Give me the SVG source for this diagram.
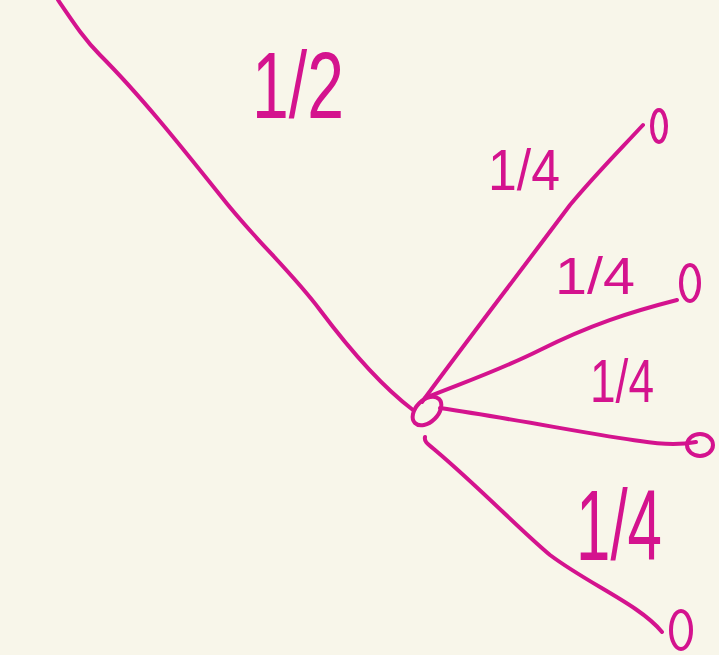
<svg xmlns="http://www.w3.org/2000/svg" width="719" height="655" viewBox="0 0 719 655">
<style>
.ln{fill:none;stroke:#D4138E;stroke-width:4;stroke-linecap:round;stroke-linejoin:round}
.nd{fill:none;stroke:#D4138E;stroke-width:4;stroke-linecap:round}
.lb{fill:#D4138E;font-family:"Liberation Sans",Arial,sans-serif}
</style>
<rect width="719" height="655" fill="#F8F6EA"/>
<g id="edges">
<path class="ln" d="M58,0 C75,25 85,40 100,55 C140,95 180,145 220,195 C255,240 290,270 320,310 C350,350 380,385 413,410"/>
<path class="ln" d="M422,402 C460,350 510,285 570,205 C595,175 615,155 643,125"/>
<path class="ln" d="M425,398 C470,380 500,370 540,350 C590,325 630,312 677,300"/>
<path class="ln" d="M440,408 C520,420 600,436 640,441 C665,445 685,444 696,442"/>
<path class="ln" d="M425,437 C424,442 428,444 435,450 C480,488 520,530 550,555 C590,585 640,605 662,632"/>
</g>
<g id="root"><ellipse class="nd" cx="427" cy="411" rx="17" ry="11" transform="rotate(-45 427 411)"/></g>
<g id="leaf1"><ellipse class="nd" cx="659" cy="126" rx="7" ry="16"/></g>
<g id="leaf2"><ellipse class="nd" cx="690" cy="283" rx="9" ry="18"/></g>
<g id="leaf3"><ellipse class="nd" cx="700" cy="445" rx="13" ry="11"/></g>
<g id="leaf4"><ellipse class="nd" cx="681" cy="630" rx="10" ry="19"/></g>
<g id="labels">
<text class="lb" x="252" y="118" font-size="95" textLength="92" lengthAdjust="spacingAndGlyphs">1/2</text>
<text class="lb" x="488" y="190" font-size="58" textLength="72" lengthAdjust="spacingAndGlyphs">1/4</text>
<text class="lb" x="555" y="294" font-size="52" textLength="80" lengthAdjust="spacingAndGlyphs">1/4</text>
<text class="lb" x="590" y="402" font-size="62" textLength="64" lengthAdjust="spacingAndGlyphs">1/4</text>
<text class="lb" x="576" y="560" font-size="100" textLength="86" lengthAdjust="spacingAndGlyphs">1/4</text>
</g>
</svg>
